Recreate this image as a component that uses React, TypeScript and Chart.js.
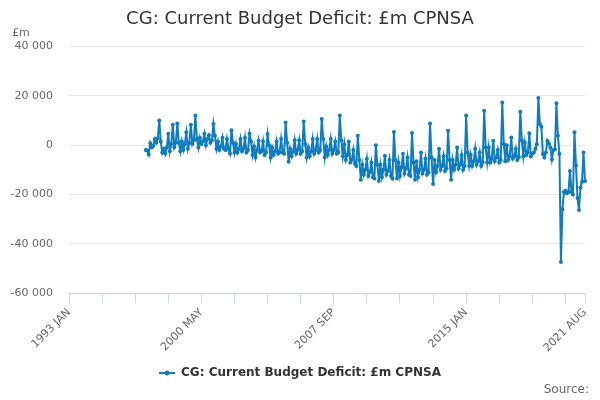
import React, { useEffect, useRef } from 'react';
import { Chart, registerables } from 'chart.js';

Chart.register(...registerables);

const chartTitle = 'CG: Current Budget Deficit: £m CPNSA';
const seriesName = 'CG: Current Budget Deficit: £m CPNSA';
const unitLabel = '£m';
const sourceLabel = 'Source:';

const monthNames = ['JAN', 'FEB', 'MAR', 'APR', 'MAY', 'JUN', 'JUL', 'AUG', 'SEP', 'OCT', 'NOV', 'DEC'];
const firstYear = 1993;
const lastYear = 2021;
const lastMonthIndex = 7; // AUG
const dataStart = '1997 APR';
const shownTickLabels = ['1993 JAN', '2000 MAY', '2007 SEP', '2015 JAN', '2021 AUG'];
const tickEveryMonths = 22;
const yMin = -60000;
const yMax = 40000;
const yStep = 20000;

// Monthly values, £m, from 1997 APR to 2021 AUG
const values1997 = [-2000, -2200, -3800, 800, -1000, -300, 2500, 1000, 2800];
const values1998 = [10000, 1500, -3000, -1500, -3500, -1000, 4600, -2500, 500, 8300, -800, 1000];
const values1999 = [8800, 1000, -2500, 1500, -2000, 500, 5200, -1500, 1000, 8300, 500, 2000];
const values2000 = [12000, 2500, -1000, 3000, 500, 1500, 4600, 0, 2500, 4000, 1000, 2000];
const values2001 = [8600, 3800, -1500, 1500, -2000, -500, 3000, -1500, -2000, 2500, -1500, -3400];
const values2002 = [6100, 1000, -3000, 500, -3000, -1500, 2500, -2500, -1500, 3000, -3000, -2000];
const values2003 = [4600, 1500, -4000, -500, -5000, -2000, 1800, -3000, -2500, 1500, -4000, -3000];
const values2004 = [4500, 0, -5000, -1000, -4000, -2500, 1500, -3500, -3000, 2500, -3000, -3500];
const values2005 = [9200, 1000, -6700, -1500, -4500, -2500, 2000, -3500, -2000, 2000, -3500, -2500];
const values2006 = [9600, 500, -5000, -1000, -4500, -2500, 2500, -3500, -2000, 2500, -3000, -2000];
const values2007 = [10600, 2500, -5000, -500, -4000, -2000, 2500, -3500, -2000, 1500, -3500, -3000];
const values2008 = [12000, 2000, -4500, 400, -6000, -4000, 1500, -7000, -6000, -2000, -7500, -8500];
const values2009 = [3800, -6000, -14000, -8000, -12000, -10000, -5500, -12500, -11000, -7000, -13000, -13500];
const values2010 = [0, -8000, -14500, -8000, -13000, -10000, -4300, -12000, -10500, -6000, -12500, -13500];
const values2011 = [5300, -6000, -13500, -7000, -12500, -9000, -3500, -11500, -9500, -5000, -12000, -12500];
const values2012 = [4900, -7000, -14000, -6500, -13000, -10000, -3000, -11500, -10000, -5500, -12000, -11000];
const values2013 = [8800, -5000, -15800, -6000, -11000, -8500, -1500, -10000, -8500, -4500, -10500, -9500];
const values2014 = [5800, -6000, -14000, -6000, -10000, -8000, -900, -9500, -8000, -4000, -10000, -8500];
const values2015 = [12000, -3000, -8400, -4000, -8500, -6500, -1500, -8000, -6500, -3000, -8500, -7000];
const values2016 = [14000, -1000, -7000, -1000, -7000, -5500, 1800, -6500, -5000, -2000, -7000, -6000];
const values2017 = [17300, 500, -6500, 0, -6000, -4500, 3100, -5500, -4500, -1500, -6000, -5000];
const values2018 = [13600, 2000, -4500, 1000, -4000, -3000, 4800, -4500, -3500, -3000, -1500, 400];
const values2019 = [19100, 8600, 7500, -3600, -5000, -3000, 1800, 700, -1000, -5800, -2000, -1700];
const values2020 = [17000, 3800, -3500, -47400, -26000, -19000, -18500, -19500, -19000, -10500, -19000, -20000];
const values2021 = [5200, -8300, -21400, -26300, -17200, -15000, -3000, -14500];

const deficit = [
  ...values1997, ...values1998, ...values1999, ...values2000, ...values2001,
  ...values2002, ...values2003, ...values2004, ...values2005, ...values2006,
  ...values2007, ...values2008, ...values2009, ...values2010, ...values2011,
  ...values2012, ...values2013, ...values2014, ...values2015, ...values2016,
  ...values2017, ...values2018, ...values2019, ...values2020, ...values2021,
];

const lineColor = '#0f7cc0';
const fontFamily = '"DejaVu Sans", Verdana, sans-serif';

function buildCategories(): string[] {
  const out: string[] = [];
  for (let y = firstYear; y <= lastYear; y++) {
    for (let m = 0; m < 12; m++) {
      if (y === lastYear && m > lastMonthIndex) break;
      out.push(`${y} ${monthNames[m]}`);
    }
  }
  return out;
}

function formatThousands(v: number): string {
  return String(v).replace(/\B(?=(\d{3})+(?!\d))/g, ' ');
}

export default function App() {
  const canvasRef = useRef<HTMLCanvasElement | null>(null);

  useEffect(() => {
    document.body.style.margin = '0';
    const canvas = canvasRef.current;
    if (!canvas) return;

    const categories = buildCategories();
    const startIdx = categories.indexOf(dataStart);
    const data = categories.map((_, i) => (i < startIdx ? null : deficit[i - startIdx] ?? null));

    const tickPositions: number[] = [];
    for (let i = 0; i < categories.length - 1; i += tickEveryMonths) tickPositions.push(i);
    tickPositions.push(categories.length - 1);

    // legend symbol: a short line with a dot
    const sym = document.createElement('canvas');
    sym.width = 16;
    sym.height = 8;
    const sctx = sym.getContext('2d')!;
    sctx.strokeStyle = lineColor;
    sctx.lineWidth = 2;
    sctx.beginPath();
    sctx.moveTo(0, 4);
    sctx.lineTo(16, 4);
    sctx.stroke();
    sctx.fillStyle = lineColor;
    sctx.beginPath();
    sctx.arc(8, 4, 2.5, 0, Math.PI * 2);
    sctx.fill();

    const extraText = {
      id: 'extraText',
      afterDraw(chart: any) {
        const ctx = chart.ctx;
        ctx.save();
        ctx.fillStyle = '#666666';
        ctx.font = `11px ${fontFamily}`;
        ctx.textAlign = 'left';
        ctx.textBaseline = 'middle';
        ctx.fillText(unitLabel, 12, 33);
        ctx.font = `12px ${fontFamily}`;
        ctx.textAlign = 'right';
        ctx.fillText(sourceLabel, 589, 390);
        ctx.restore();
      },
    };

    Chart.defaults.font.family = fontFamily;

    const chart = new Chart(canvas, {
      type: 'line',
      data: {
        labels: categories,
        datasets: [
          {
            label: seriesName,
            data,
            borderColor: lineColor,
            backgroundColor: lineColor,
            borderWidth: 2,
            pointRadius: 2,
            pointBorderWidth: 0,
            pointBackgroundColor: lineColor,
            tension: 0,
            spanGaps: false,
          },
        ],
      },
      options: {
        responsive: false,
        animation: false,
        layout: { padding: { top: 0, right: 0, bottom: 11, left: 0 } },
        plugins: {
          title: {
            display: true,
            text: chartTitle,
            color: '#333333',
            font: { size: 18, weight: 'normal', family: fontFamily },
            padding: { top: 9, bottom: 16 },
          },
          legend: {
            display: true,
            position: 'bottom',
            labels: {
              color: '#333333',
              font: { size: 12, weight: 'bold', family: fontFamily },
              usePointStyle: true,
              pointStyle: sym as any,
              pointStyleWidth: 16,
              padding: 10,
            },
          },
          tooltip: { enabled: false },
        },
        scales: {
          x: {
            type: 'category',
            offset: false,
            afterFit: (scale: any) => {
              scale.height = 64;
              scale.paddingRight = 15;
            },
            afterBuildTicks: (scale: any) => {
              scale.ticks = tickPositions.map((v) => ({ value: v }));
            },
            grid: {
              display: true,
              drawOnChartArea: false,
              drawTicks: true,
              tickLength: 10,
              color: '#ccd6eb',
            },
            border: { display: true, color: '#ccd6eb' },
            ticks: {
              autoSkip: false,
              maxRotation: 45,
              minRotation: 45,
              padding: 3,
              color: '#666666',
              font: { size: 11, family: fontFamily },
              callback: function (this: any, value: any) {
                const lbl = categories[value as number];
                return shownTickLabels.includes(lbl) ? lbl : '';
              },
            },
          },
          y: {
            min: yMin,
            max: yMax,
            afterFit: (scale: any) => {
              scale.width = 69;
            },
            grid: {
              color: '#e6e6e6',
              drawTicks: false,
            },
            border: { display: false },
            ticks: {
              stepSize: yStep,
              padding: 16,
              color: '#666666',
              font: { size: 11, family: fontFamily },
              callback: (v: any) => formatThousands(Number(v)),
            },
          },
        },
      },
      plugins: [extraText],
    });

    return () => {
      chart.destroy();
    };
  }, []);

  return (
    <div style={{ width: 600, height: 400 }}>
      <canvas ref={canvasRef} width={600} height={400} />
    </div>
  );
}
